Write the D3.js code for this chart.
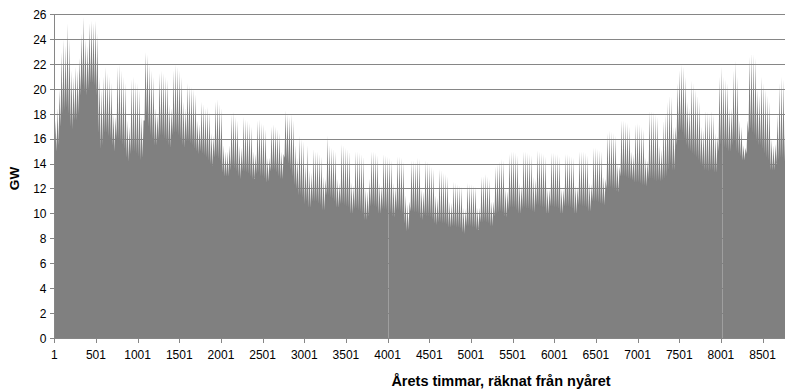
<!DOCTYPE html>
<html><head><meta charset="utf-8">
<script src="https://cdn.jsdelivr.net/npm/d3@7"></script>
<style>
html,body{margin:0;padding:0;background:#fff;}
svg{display:block;}
text{font-family:"Liberation Sans",Arial,sans-serif;fill:#000;}
</style></head>
<body><svg id="c" width="785" height="392"></svg>
<script>
// Daily peak (GW) per day of the year, one row per week (Mon..Sun), year starting on a Friday
const dailyPeak = [
17.5,18.5,20,
23,24,23.5,25.3,24,21.5,21,
21.8,21.5,22.5,24.5,25.8,24,23.5,
25.3,25.5,25.3,25.5,24.5,21,20,
21,21.8,21.3,21,20.5,18,17.8,
21.8,22,21.5,21,20.5,17.5,17,
20.8,21,20.6,20.5,20,17.8,17.5,
23,22.8,22,21.5,21,18.5,18,
21.3,21.5,21.3,21,20.8,18.8,18.5,
21.5,22,21.8,21.5,21,19,18.5,
20.5,20.3,20.2,20,19.6,17.5,17.2,
19,18.8,18.5,18.6,18.2,16.5,16.3,
19,19.2,18.8,18.5,15.5,15,15,
15.5,18,18.2,17.8,17.5,15.5,15.3,
17.8,17.6,17.5,17.3,17,15,14.8,
17.5,17.6,17.3,17.2,16.8,14.5,14.5,
17,17.2,17,16.8,16.5,15,14.8,
18.3,18,17.8,18,17.5,15.5,14.5,
16.3,16,15.8,14,15.5,13.5,13.3,
15.2,15,15,14.8,14.6,13,12.8,
16.3,15.5,15.3,15.2,15,12.8,12.5,
15.6,15.5,15.3,15.2,15,12.5,12.3,
15,15,14.9,14.8,14.6,12,11.8,
12.8,15,15,14.9,14.7,12.5,12.3,
14.8,14.7,14.6,14.5,14.3,12.5,12.2,
14.6,14.6,14.5,14.2,11.5,10.8,11,
14.3,14.3,14.2,14.5,14.4,12,11.8,
14.3,14.2,14,13.8,13.6,11.5,11.3,
13.6,13.5,13.3,13.2,13,11,10.9,
12.6,12.5,12.4,12.3,12.2,10.5,10.4,
12.5,12.4,12.4,12.3,12.2,10.5,10.5,
13,13,13.2,13,12.8,11,11,
13.8,14,14.2,14.4,14.3,12,11.8,
14.8,15,15,14.9,14.7,12.5,12.3,
15,15,14.9,14.8,14.7,13,12.8,
15.1,15,14.9,14.8,14.6,12,12,
14.9,14.9,14.8,14.8,14.6,12,12,
14.8,14.8,14.7,14.6,14.5,12.3,12.2,
15,15,15,14.9,14.7,12.5,12.4,
15.3,15.3,15.2,15.1,15,13,12.8,
16.5,16.7,16.6,16.5,16.3,14,13.8,
17.5,17.5,17.4,17.3,17,15,14.8,
17.2,17.3,17.2,17,16.8,14.5,14.3,
18.3,18.3,18.2,18,17.8,15.5,15.2,
17.5,18,19,19.5,19.4,17,17,
20.5,21.5,22,21.8,21,19,18.5,
20.7,20.5,20,19.5,19,17,16.8,
18.3,18.2,18,18.3,18,16.5,16.2,
21,21.8,21,20.8,20.5,18.5,18.5,
21.5,22.3,21,17.5,17,15.5,15.3,
17.5,22.6,22.9,22.8,22.5,20,19.5,
21,20.5,20,19.5,19,16,15.5,
15.6,18,20.5,21,20.8,19
];
// Daily night low (GW)
const dailyLow = [
14.2,15,15.5,
17,18,18.3,18.5,18,17,16.8,
17.5,17.5,18,19.5,20.3,19.8,19.5,
20,20.5,20.5,20.3,19.5,16.5,15.2,
15.5,16.5,16.5,16.2,16,15.5,15,
16,16,15.8,15.5,15.2,14.5,14.2,
14.8,15,15,14.8,14.6,14.3,14.5,
17.5,18,17,16.3,16,15.5,15.5,
16,16.3,16.3,16,15.8,15.5,15.3,
16.3,16.5,16.5,16.3,16,15.5,15.3,
15.8,15.8,15.6,15.5,15.2,15,14.8,
15,14.8,14.7,14.5,14.3,14,13.8,
14.5,14.6,14.4,14.2,13.3,13,13,
13,13.5,13.8,13.6,13.4,13,12.8,
13.4,13.4,13.3,13.2,13,12.8,12.8,
13.2,13.3,13,13,12.8,12.5,12.6,
13.4,13.5,13.5,13.3,13,12.8,12.8,
14.5,14.3,14,13.5,13,12.3,12,
11.5,11.5,11.3,10.8,11,10.5,10.5,
11,11,11,10.8,10.7,10.3,10.3,
11.5,11.5,11.3,11.2,11,10.5,10.5,
10.8,10.8,10.7,10.6,10.5,10,10,
10.4,10.4,10.3,10.2,10,9.5,9.5,
9.8,10.6,10.7,10.6,10.5,10,10,
10.4,10.4,10.3,10.3,10.1,9.8,9.7,
10.3,10.3,10.2,10,9.2,8.6,8.7,
10.2,10.2,10.1,10.1,10,9.6,9.5,
9.9,9.8,9.8,9.7,9.5,9.2,9.1,
9.3,9.3,9.2,9.2,9.1,8.9,8.9,
9,9,8.9,8.9,8.8,8.5,8.4,
9,9,9,8.9,8.9,8.7,8.7,
9.3,9.3,9.4,9.3,9.2,9,9,
9.8,10,10.1,10.2,10.1,9.8,9.7,
10.3,10.5,10.5,10.5,10.3,10,10,
10.4,10.5,10.4,10.4,10.3,10.2,10.1,
10.7,10.7,10.6,10.5,10.5,10,10,
10.6,10.6,10.5,10.5,10.4,10,10,
10.6,10.6,10.6,10.5,10.4,10,10,
10.7,10.7,10.6,10.6,10.5,10.2,10.2,
11,11,11,10.9,10.8,10.8,10.7,
12,12.1,12.1,12,11.9,11.8,11.7,
13,13,13,12.9,12.8,12.8,12.7,
12.5,12.5,12.5,12.4,12.3,12.3,12.2,
12.8,12.8,12.8,12.7,12.6,12.7,12.6,
12.7,12.8,13,13.5,14,13.5,13.5,
15.5,16.5,16.7,16.5,16,15.5,15.2,
15,14.8,14.7,14.5,14.3,14,13.8,
13.5,13.5,13.4,13.5,13.5,13.3,13.3,
15,15.5,15.5,15.3,15.2,15,15,
15.5,15.8,15,14.8,14.6,14.3,14.3,
14.8,16.5,16.8,16.5,16.3,15.8,15.5,
15.5,15.2,14.8,14.5,14.3,13.5,13.5,
13.5,14,14.3,14.5,14.5,14.2
];
const lowHour = 4, peakHour = 16;          // hour of day for night low / day peak
const hoursInYear = 8784;
const xTickLabels = ["1","501","1001","1501","2001","2501","3001","3501","4001","4501","5001","5501","6001","6501","7001","7501","8001","8501"];
const yTickValues = [0,2,4,6,8,10,12,14,16,18,20,22,24,26];
const xTitle = "Årets timmar, räknat från nyåret";
const yTitle = "GW";

const svg = d3.select("#c");
const x = d3.scaleLinear().domain([1, hoursInYear]).range([54.3, 786.2]);
const y = d3.scaleLinear().domain([0, 26]).range([338.5, 14.5]);
const gridColor = "#868686";

// gridlines
svg.append("g").selectAll("line").data(yTickValues.filter(v => v > 0)).join("line")
  .attr("x1", 54).attr("x2", 785)
  .attr("y1", v => Math.floor(y(v)) + 0.5).attr("y2", v => Math.floor(y(v)) + 0.5)
  .attr("stroke", gridColor).attr("stroke-width", 1);

// series: night low and day peak of every day
const series = [];
dailyPeak.forEach((p, d) => {
  series.push([24 * d + lowHour, dailyLow[d]]);
  series.push([24 * d + peakHour, p]);
});
const area = d3.area().x(d => x(d[0])).y0(y(0)).y1(d => y(d[1]));
// drawn in chunks like the original renderer (seams at chunk joins)
const chunkBreaks = [0, 334, 668, series.length - 1];
for (let i = 0; i < chunkBreaks.length - 1; i++) {
  svg.append("path").datum(series.slice(chunkBreaks[i], chunkBreaks[i + 1] + 1))
    .attr("d", area).attr("fill", "#808080");
}

// x axis
const xAxis = svg.append("g");
xAxis.append("line").attr("x1", 54).attr("x2", 785).attr("y1", 338.5).attr("y2", 338.5).attr("stroke", gridColor);
xTickLabels.forEach(lbl => {
  const h = +lbl;
  const px = Math.round(x(h)) + 0.5;
  xAxis.append("line").attr("x1", px).attr("x2", px).attr("y1", 338).attr("y2", 343).attr("stroke", gridColor);
  xAxis.append("text").attr("x", x(h)).attr("y", 359).attr("text-anchor", "middle")
    .attr("font-size", "12px").text(lbl);
});

// y axis
const yAxis = svg.append("g");
yAxis.append("line").attr("x1", 54.5).attr("x2", 54.5).attr("y1", 14).attr("y2", 339).attr("stroke", gridColor);
yTickValues.forEach(v => {
  const py = Math.floor(y(v)) + 0.5;
  yAxis.append("line").attr("x1", 50).attr("x2", 54.5).attr("y1", py).attr("y2", py).attr("stroke", gridColor);
  yAxis.append("text").attr("x", 46.5).attr("y", y(v)).attr("dy", "0.36em").attr("text-anchor", "end")
    .attr("font-size", "12px").text(v);
});

// titles
svg.append("text").attr("x", 501).attr("y", 386).attr("text-anchor", "middle")
  .attr("font-weight", "bold").attr("font-size", "14.5px").text(xTitle);
svg.append("text").attr("transform", "translate(19,178.5) rotate(-90)").attr("text-anchor", "middle")
  .attr("font-weight", "bold").attr("font-size", "13.5px").text(yTitle);
</script></body></html>
